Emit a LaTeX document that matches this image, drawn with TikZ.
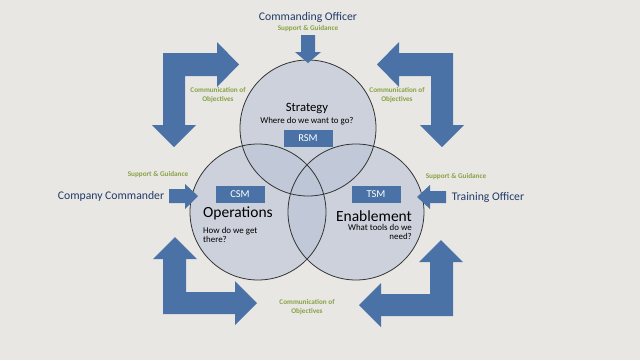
\documentclass[tikz,border=0pt]{standalone}
\usepackage{fontspec}
\setmainfont{Carlito}
\definecolor{paper}{HTML}{E9E7E4}
\definecolor{arrowblue}{HTML}{4A72A6}
\definecolor{navy}{HTML}{1F3A68}
\definecolor{olive}{HTML}{86A244}
\definecolor{bubin}{HTML}{BBC5D7}
\definecolor{bubmid}{HTML}{9DB0CC}
\definecolor{bubrim}{HTML}{6F8BB5}
\definecolor{bubhi}{HTML}{E4EAF3}
\pgfdeclareradialshading{bubble}{\pgfpoint{0bp}{0bp}}{color(0bp)=(bubin); color(30bp)=(bubin); color(45bp)=(bubmid); color(48.3bp)=(bubrim); color(49.2bp)=(bubhi); color(50bp)=(bubrim)}
\tikzset{
  blockarrow/.style={fill=arrowblue},
  rolebox/.style={fill=arrowblue, text=white, minimum width=49pt, minimum height=17pt, inner sep=0pt, font=\fontsize{10.5}{12}\selectfont},
  guide/.style={text=olive, font=\bfseries\fontsize{7.2}{9.5}\selectfont, align=center},
  officer/.style={text=navy, font=\fontsize{11.7}{13}\selectfont},
  bubbleline/.style={draw=black!80, line width=0.8pt},
}
\begin{document}
\begin{tikzpicture}[x=1pt,y=-1pt]
\useasboundingbox[fill=paper] (0,0) rectangle (640,360);
\foreach \cx/\cy in {308/128, 258/212, 356/212}
  \shade[shading=bubble, opacity=0.62] (\cx,\cy) circle (68);
\foreach \cx/\cy in {308/128, 258/212, 356/212}
  \draw[bubbleline] (\cx,\cy) circle (68);
\fill[blockarrow] (163,53) -- (217,53) -- (217,42) -- (239,64.5) -- (217,87) -- (217,76) -- (185,76)
  -- (185,125) -- (196,125) -- (174,147) -- (152,125) -- (163,125) -- cycle;
\fill[blockarrow] (453,53) -- (399,53) -- (399,42) -- (377,64.5) -- (399,87) -- (399,76) -- (431,76)
  -- (431,125) -- (464,125) -- (442,147) -- (420,125) -- (453,125) -- cycle;
\fill[blockarrow] (163,314) -- (235,314) -- (235,325) -- (257,303) -- (235,281) -- (235,292) -- (186,292)
  -- (186,259) -- (197,259) -- (175,237) -- (153,259) -- (163,259) -- cycle;
\fill[blockarrow] (453,316) -- (381,316) -- (381,327) -- (359,305) -- (381,283) -- (381,294) -- (430,294)
  -- (430,262) -- (419,262) -- (441,240) -- (463,262) -- (453,262) -- cycle;
\fill[blockarrow] (301,35) -- (315,35) -- (315,52) -- (321,52) -- (308,63) -- (295,52) -- (301,52) -- cycle;
\fill[blockarrow] (169,189) -- (185,189) -- (185,184) -- (198,196) -- (185,209) -- (185,203) -- (169,203) -- cycle;
\fill[blockarrow] (446,191) -- (430,191) -- (430,185) -- (417,197) -- (430,209) -- (430,203) -- (446,203) -- cycle;
\node[officer] (co) at (308,17) {Commanding Officer};
\node[officer] (cc) at (111,196) {Company Commander};
\node[officer] (to) at (488,197) {Training Officer};
\node[guide] (sgtop) at (308,29) {Support \& Guidance};
\node[guide] (sgleft) at (158,175) {Support \& Guidance};
\node[guide] (sgright) at (456,177) {Support \& Guidance};
\node[guide] (cotl) at (218,95) {Communication of\\Objectives};
\node[guide] (cotr) at (397,95) {Communication of\\Objectives};
\node[guide] (cobot) at (307,307) {Communication of\\Objectives};
\node[font=\fontsize{12.7}{14}\selectfont] (strat) at (307,108) {Strategy};
\node[font=\fontsize{8.9}{10}\selectfont] (stratq) at (307,121.5) {Where do we want to go?};
\node[rolebox] (rsm) at (308,138.5) {RSM};
\node[rolebox] (csm) at (240,194) {CSM};
\node[rolebox] (tsm) at (376,194) {TSM};
\node[font=\fontsize{15.5}{17}\selectfont, anchor=west, inner sep=0pt] (ops) at (203,213) {Operations};
\node[font=\fontsize{8.9}{9.5}\selectfont, anchor=north west, align=left, inner sep=0pt] (opsq) at (203,227) {How do we get\\there?};
\node[font=\fontsize{15.5}{17}\selectfont] (enab) at (374,216) {Enablement};
\node[font=\fontsize{8.9}{9.5}\selectfont, anchor=north east, align=right, inner sep=0pt] (enabq) at (412,224) {What tools do we\\need?};
\end{tikzpicture}
\end{document}
